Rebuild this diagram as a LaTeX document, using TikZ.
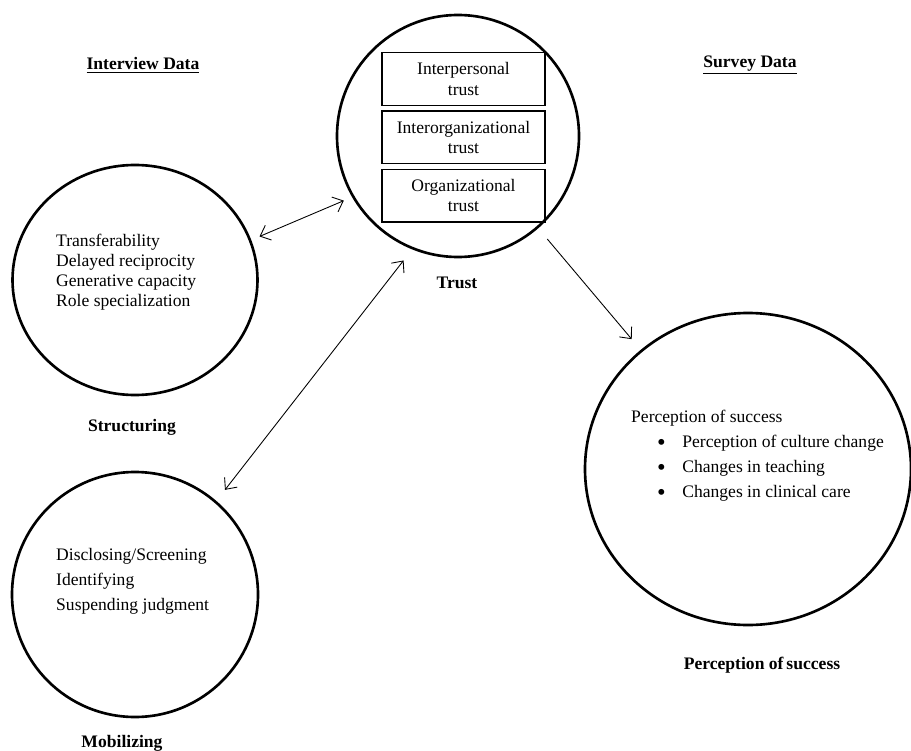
\documentclass[tikz,border=0pt]{standalone}
\usepackage{fontspec}
\setmainfont{Liberation Serif}
\usetikzlibrary{shapes.geometric,positioning,arrows.meta}

\newcommand{\bigdot}{\hspace*{0.52cm}\raisebox{-0.05cm}{\fontsize{14}{11.4}\selectfont\textbullet}\hspace{0.33cm}}

\begin{document}
\begin{tikzpicture}[
	font=\fontsize{10}{11.4}\selectfont,
	bubble/.style={draw, ellipse, line width=1.5pt, inner sep=0pt},
	trustbox/.style={draw, line width=0.8pt, minimum width=3.26cm, minimum height=1.05cm, align=center, inner sep=1pt},
	lbl/.style={font=\fontsize{10}{11.4}\selectfont\bfseries},
	link/.style={line width=0.5pt, shorten <=#1, shorten >=#1},
	>={Straight Barb[length=1.8mm,width=3.2mm]}
]
	\useasboundingbox (0,0) rectangle (18.22,15);

	% Headings
	\node[lbl] (hint) at (2.86,13.7) {\underline{Interview Data}};
	\node[lbl] (hsur) at (15.0,13.7) {\underline{Survey Data}};

	% Trust circle with the three kinds of trust
	\node[bubble, minimum width=4.84cm, minimum height=4.84cm] (trust) at (9.16,12.28) {};
	\node[trustbox] (inter) at (9.27,13.42) {Interpersonal\\trust};
	\node[trustbox, below=0.09cm of inter] (interorg) {Interorganizational\\trust};
	\node[trustbox, below=0.09cm of interorg] (org) {Organizational\\trust};
	\node[lbl] (ltrust) at (9.14,9.34) {Trust};

	% Structuring
	\node[bubble, minimum width=4.9cm, minimum height=4.6cm] (struc) at (2.7,9.4) {};
	\node[anchor=west, align=left] (tstruc) at (1.0,9.56) {Transferability\\Delayed reciprocity\\Generative capacity\\Role specialization};
	\node[lbl] (lstruc) at (2.64,6.46) {Structuring};

	% Mobilizing
	\node[bubble, minimum width=4.92cm, minimum height=4.9cm] (mobil) at (2.7,3.11) {};
	\node[anchor=west, align=left] (tmobil) at (1.0,3.38) {Disclosing/Screening\\[0.1cm]Identifying\\[0.1cm]Suspending judgment};
	\node[lbl] (lmobil) at (2.44,0.14) {Mobilizing};

	% Perception of success
	\node[bubble, minimum width=6.52cm, minimum height=6.24cm] (succ) at (14.96,5.62) {};
	\node[anchor=west, align=left] (tsucc) at (12.5,5.88) {Perception of success\\[0.1cm]
		\bigdot Perception of culture change\\[0.1cm]
		\bigdot Changes in teaching\\[0.1cm]
		\bigdot Changes in clinical care};
	\node[lbl] (lsucc) at (15.24,1.7) {Perception of\,success};

	% Arrows
	\draw[link=0.18cm, <->] (struc.19) -- (trust.210);
	\draw[link=0.28cm, <->] (mobil.49) -- (trust.248);
	\draw[link=0.28cm, ->] (trust.-49) -- (succ.132);

\end{tikzpicture}
\end{document}
